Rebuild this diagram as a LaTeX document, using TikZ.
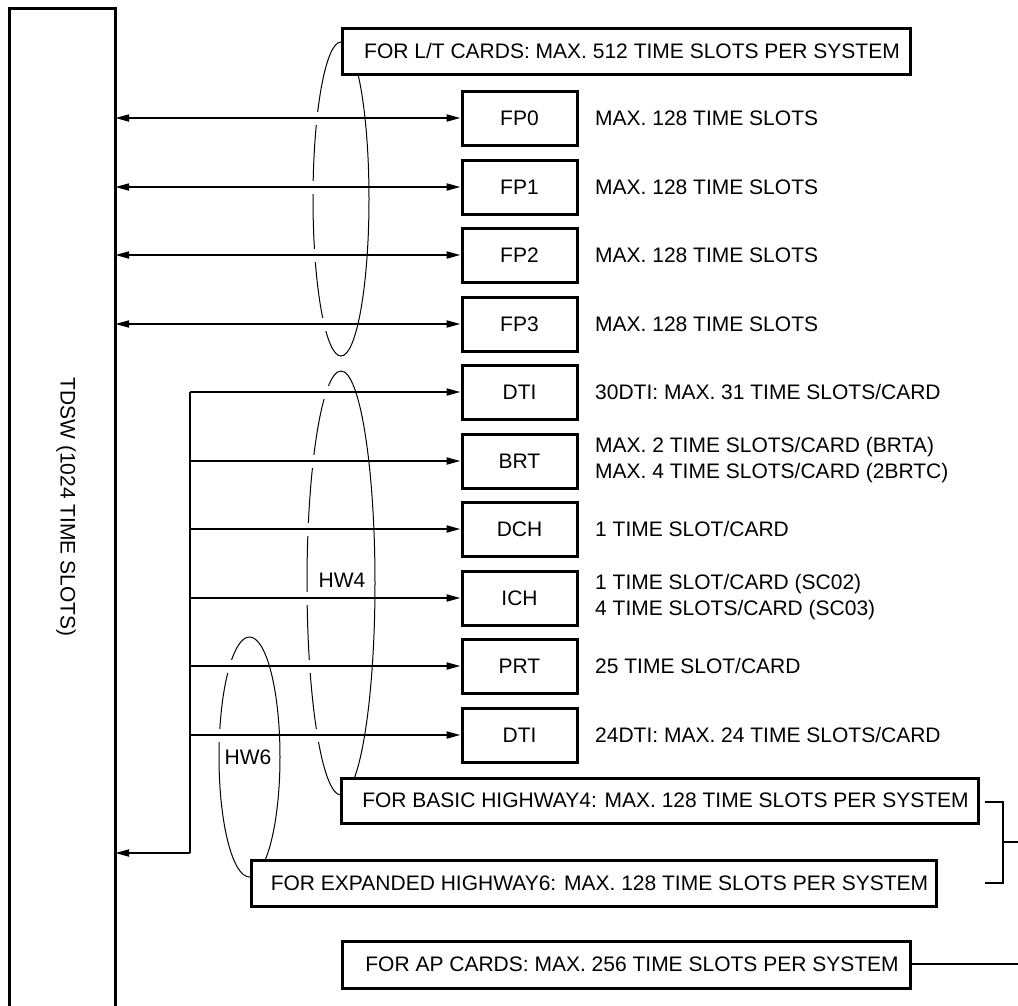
\documentclass[tikz,border=0pt]{standalone}
\usepackage{fontspec}
\setmainfont{Liberation Sans}
\usetikzlibrary{arrows.meta,calc}
\begin{document}
\begin{tikzpicture}[x=1pt,y=-1pt,
  every node/.style={font=\fontsize{21}{26}\selectfont, inner sep=0pt},
  card/.style={draw, line width=3pt, fill=white, minimum width=115pt, minimum height=54pt},
  notebox/.style={draw, line width=3pt, fill=white, minimum height=46pt},
  wire/.style={line width=2pt},
  tip/.style={-{Triangle[length=14pt,width=7pt]}},
  dtip/.style={{Triangle[length=14pt,width=7pt]}-{Triangle[length=14pt,width=7pt]}},
  ring/.style={line width=1pt},
  note/.style={anchor=west, align=left}]

\useasboundingbox (0,0) rectangle (1018,1005);

% TDSW block (open at the bottom)
\node[minimum width=105pt, minimum height=1000pt] (tdsw) at (62.5,509) {};
\draw[line width=3pt] (tdsw.south west) -- (tdsw.north west) -- (tdsw.north east) -- (tdsw.south east);
\node[rotate=-90] (tdswlabel) at (66,507) {TDSW (1024 TIME SLOTS)};

% ellipses
\draw[ring] (341,199) ellipse [x radius=28pt, y radius=157pt];
\draw[ring] (341,583) ellipse [x radius=34pt, y radius=212pt];
\draw[ring] (249.5,757) ellipse [x radius=30.5pt, y radius=120pt];
\foreach \y in {118,187,255,324} \fill[white] (306,\y-6.5) rectangle (340,\y+6.5);
\foreach \y in {392,461,529,598,666,735} \fill[white] (300,\y-6.5) rectangle (340,\y+6.5);
\foreach \y in {666,735} \fill[white] (213,\y-6.5) rectangle (248,\y+6.5);

\node (hw4lab) at (342,580) {HW4};
\node (hw6lab) at (248,757) {HW6};

% cards
\node[card] (fp0) at (519.5,118) {FP0};
\node[card] (fp1) at (519.5,187) {FP1};
\node[card] (fp2) at (519.5,255) {FP2};
\node[card] (fp3) at (519.5,324) {FP3};
\node[card] (dti1) at (519.5,392) {DTI};
\node[card] (brt) at (519.5,461) {BRT};
\node[card] (dch) at (519.5,529) {DCH};
\node[card] (ich) at (519.5,598) {ICH};
\node[card] (prt) at (519.5,666) {PRT};
\node[card] (dti2) at (519.5,735) {DTI};

% notes beside cards
\node[note] (n0) at (595,118) {MAX. 128 TIME SLOTS};
\node[note] (n1) at (595,187) {MAX. 128 TIME SLOTS};
\node[note] (n2) at (595,255) {MAX. 128 TIME SLOTS};
\node[note] (n3) at (595,324) {MAX. 128 TIME SLOTS};
\node[note] (n4) at (595,392) {30DTI: MAX. 31 TIME SLOTS/CARD};
\node[note] (n5) at (595,460) {MAX. 2 TIME SLOTS/CARD (BRTA)\\MAX. 4 TIME SLOTS/CARD (2BRTC)};
\node[note] (n6) at (595,529) {1 TIME SLOT/CARD};
\node[note] (n7) at (595,597) {1 TIME SLOT/CARD (SC02)\\4 TIME SLOTS/CARD (SC03)};
\node[note] (n8) at (595,666) {25 TIME SLOT/CARD};
\node[note] (n9) at (595,735) {24DTI: MAX. 24 TIME SLOTS/CARD};

% wires
\foreach \n in {fp0,fp1,fp2,fp3}
  \draw[wire,dtip] (tdsw.east |- \n.west) -- (\n.west);
\coordinate (bustop) at (190,392);
\coordinate (busbot) at (190,853);
\draw[wire] (bustop) -- (busbot);
\draw[wire,tip] (busbot) -- (tdsw.east |- busbot);
\foreach \n in {dti1,brt,dch,ich,prt,dti2}
  \draw[wire,tip] (bustop |- \n.west) -- (\n.west);

% note boxes
\node[notebox, minimum width=568pt] (lt) at (626,51) {\hspace*{12pt}FOR L/T CARDS: MAX. 512 TIME SLOTS PER SYSTEM};
\node[notebox, minimum width=637pt, minimum height=45pt] (hw4) at (659.5,800.5) {\hspace*{12pt}FOR BASIC HIGHWAY4: MAX. 128 TIME SLOTS PER SYSTEM};
\node[notebox, minimum width=685pt] (hw6) at (593.5,883) {\hspace*{12pt}FOR EXPANDED HIGHWAY6: MAX. 128 TIME SLOTS PER SYSTEM};
\node[notebox, minimum width=568pt, minimum height=47pt] (ap) at (626,964.5) {\hspace*{12pt}FOR AP CARDS: MAX. 256 TIME SLOTS PER SYSTEM};

% bracket and leaders on the right
\coordinate (b1) at (985,802);
\coordinate (b2) at (1003,802);
\coordinate (b3) at (1003,883);
\coordinate (b4) at (985,883);
\coordinate (bm) at (1003,842);
\coordinate (be) at (1018,842);
\draw[wire] (b1) -- (b2) -- (b3) -- (b4);
\draw[wire] (bm) -- (be);
\coordinate (ape) at (1018,964);
\draw[wire] (ap.east |- ape) -- (ape);
\end{tikzpicture}
\end{document}
